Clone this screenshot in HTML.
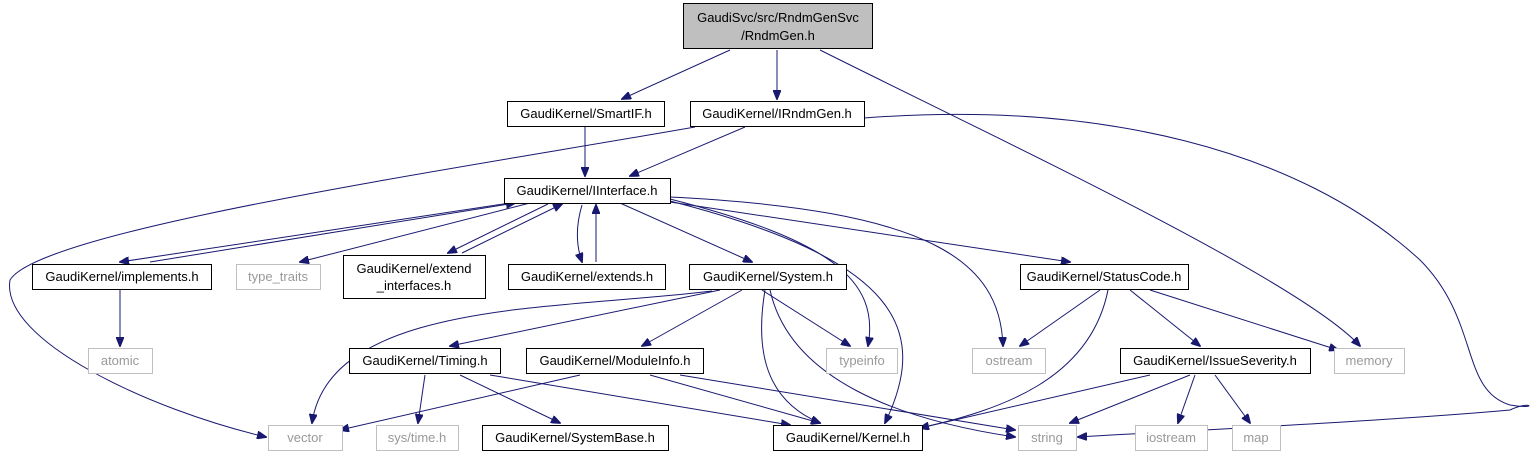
<!DOCTYPE html>
<html><head><meta charset="utf-8"><style>
body{margin:0;background:#fff;}
svg{display:block;}
text{font-family:"Liberation Sans",sans-serif;font-size:13px;fill:#000;}
.n{fill:#fff;stroke:#000;stroke-width:1;}
.g{fill:#fff;stroke:#bfbfbf;stroke-width:1;}
.gt{fill:#999;}
path.e{fill:none;stroke:#191970;stroke-width:1;marker-end:url(#a);}
</style></head><body>
<svg width="1537" height="459" viewBox="0 0 1537 459">
<defs><marker id="a" markerWidth="10" markerHeight="8" refX="9" refY="4" orient="auto" markerUnits="userSpaceOnUse"><path d="M0,0 L10,4 L0,8 z" fill="#191970" stroke="#191970"/></marker></defs>
<path class="e" d="M730,50 L622,99"/>
<path class="e" d="M777,50 L777,99"/>
<path class="e" d="M820,50 C1000,140 1300,280 1360,346"/>
<path class="e" d="M585,127 L585,176"/>
<path class="e" d="M745,127 L630,176"/>
<path class="e" d="M695,127 C450,170 40,230 10,280 C0,340 150,410 266,437"/>
<path class="e" d="M864,118 C1100,100 1300,150 1420,260 C1480,320 1460,390 1510,405 C1540,410 1530,400 1510,410 C1400,420 1200,430 1078,437"/>
<path class="e" d="M510,203 L120,262"/>
<path class="e" d="M150,262 L515,203"/>
<path class="e" d="M530,203 L300,262"/>
<path class="e" d="M548,204 L448,253"/>
<path class="e" d="M462,253 L562,204"/>
<path class="e" d="M582,205 C576,225 576,245 582,262"/>
<path class="e" d="M596,262 L596,205"/>
<path class="e" d="M620,203 L752,262"/>
<path class="e" d="M670,199 C830,240 880,280 868,346"/>
<path class="e" d="M670,201 C900,260 930,330 885,423"/>
<path class="e" d="M670,197 C930,210 1000,260 1003,346"/>
<path class="e" d="M670,202 L1070,262"/>
<path class="e" d="M712,291 C560,310 330,300 312,423"/>
<path class="e" d="M720,290 L450,346"/>
<path class="e" d="M742,290 L642,346"/>
<path class="e" d="M762,290 L850,346"/>
<path class="e" d="M765,290 C755,350 765,400 820,423"/>
<path class="e" d="M770,290 C790,380 900,420 1015,437"/>
<path class="e" d="M1100,290 L1020,346"/>
<path class="e" d="M1108,290 C1090,380 1000,410 920,428"/>
<path class="e" d="M1130,290 L1200,346"/>
<path class="e" d="M1150,290 L1338,350"/>
<path class="e" d="M425,375 L418,423"/>
<path class="e" d="M460,375 L560,423"/>
<path class="e" d="M490,375 L790,425"/>
<path class="e" d="M580,375 L340,430"/>
<path class="e" d="M650,375 L820,423"/>
<path class="e" d="M680,375 L1015,430"/>
<path class="e" d="M1150,375 L920,428"/>
<path class="e" d="M1190,375 L1070,423"/>
<path class="e" d="M1195,375 L1178,423"/>
<path class="e" d="M1215,375 L1250,423"/>
<path class="e" d="M120,290 L120,346"/>
<rect x="683.5" y="3.5" width="189" height="45" fill="#bfbfbf" stroke="#000"/>
<text x="778" y="22" text-anchor="middle">GaudiSvc/src/RndmGenSvc</text>
<text x="778" y="40" text-anchor="middle">/RndmGen.h</text>
<rect class="n" x="507.5" y="101.5" width="157" height="25"/><text x="586" y="118" text-anchor="middle">GaudiKernel/SmartIF.h</text>
<rect class="n" x="690.5" y="101.5" width="174" height="25"/><text x="777" y="118" text-anchor="middle">GaudiKernel/IRndmGen.h</text>
<rect class="n" x="504.5" y="178.5" width="166" height="25"/><text x="587" y="195" text-anchor="middle">GaudiKernel/IInterface.h</text>
<rect class="n" x="32.5" y="264.5" width="179" height="25"/><text x="122" y="281" text-anchor="middle">GaudiKernel/implements.h</text>
<rect class="g" x="236.5" y="264.5" width="84" height="25"/><text class="gt" x="278" y="281" text-anchor="middle">type_traits</text>
<rect class="n" x="343.5" y="255.5" width="142" height="43"/><text x="414" y="273" text-anchor="middle">GaudiKernel/extend</text><text x="414" y="290" text-anchor="middle">_interfaces.h</text>
<rect class="n" x="508.5" y="264.5" width="157" height="25"/><text x="587" y="281" text-anchor="middle">GaudiKernel/extends.h</text>
<rect class="n" x="689.5" y="264.5" width="157" height="25"/><text x="768" y="281" text-anchor="middle">GaudiKernel/System.h</text>
<rect class="n" x="1020.5" y="264.5" width="168" height="25"/><text x="1104" y="281" text-anchor="middle">GaudiKernel/StatusCode.h</text>
<rect class="g" x="88.5" y="348.5" width="64" height="25"/><text class="gt" x="120" y="365" text-anchor="middle">atomic</text>
<rect class="n" x="349.5" y="348.5" width="151" height="25"/><text x="425" y="365" text-anchor="middle">GaudiKernel/Timing.h</text>
<rect class="n" x="526.5" y="348.5" width="177" height="25"/><text x="615" y="365" text-anchor="middle">GaudiKernel/ModuleInfo.h</text>
<rect class="g" x="826.5" y="348.5" width="71" height="25"/><text class="gt" x="862" y="365" text-anchor="middle">typeinfo</text>
<rect class="g" x="972.5" y="348.5" width="73" height="25"/><text class="gt" x="1009" y="365" text-anchor="middle">ostream</text>
<rect class="n" x="1120.5" y="348.5" width="190" height="25"/><text x="1215" y="365" text-anchor="middle">GaudiKernel/IssueSeverity.h</text>
<rect class="g" x="1334.5" y="348.5" width="70" height="25"/><text class="gt" x="1369" y="365" text-anchor="middle">memory</text>
<rect class="g" x="268.5" y="425.5" width="74" height="25"/><text class="gt" x="305" y="442" text-anchor="middle">vector</text>
<rect class="g" x="376.5" y="425.5" width="82" height="25"/><text class="gt" x="417" y="442" text-anchor="middle">sys/time.h</text>
<rect class="n" x="482.5" y="425.5" width="186" height="25"/><text x="575" y="442" text-anchor="middle">GaudiKernel/SystemBase.h</text>
<rect class="n" x="773.5" y="425.5" width="149" height="25"/><text x="848" y="442" text-anchor="middle">GaudiKernel/Kernel.h</text>
<rect class="g" x="1018.5" y="425.5" width="58" height="25"/><text class="gt" x="1047" y="442" text-anchor="middle">string</text>
<rect class="g" x="1135.5" y="425.5" width="72" height="25"/><text class="gt" x="1171" y="442" text-anchor="middle">iostream</text>
<rect class="g" x="1232.5" y="425.5" width="48" height="25"/><text class="gt" x="1256" y="442" text-anchor="middle">map</text>
</svg>
</body></html>
